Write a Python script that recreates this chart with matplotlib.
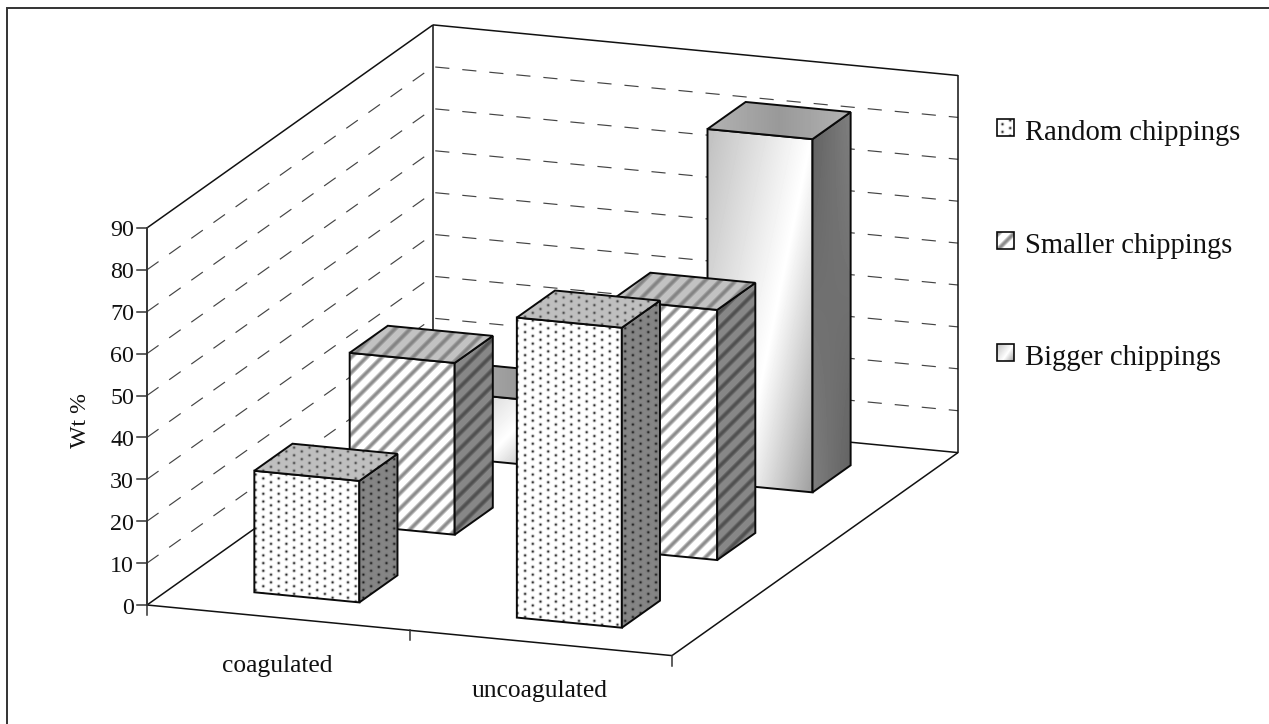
import numpy as np
import matplotlib
matplotlib.use("Agg")
import matplotlib.pyplot as plt
from matplotlib.patches import Polygon

# ---- data ----
categories = ["coagulated", "uncoagulated"]
series_names = ["Random chippings", "Smaller chippings", "Bigger chippings"]
random_chippings = [29, 71.6]
smaller_chippings = [41, 59.7]
bigger_chippings = [15.5, 84.3]
z_ticks = [0, 10, 20, 30, 40, 50, 60, 70, 80, 90]
z_label = "Wt %"

# ---- layout ----
W, H = 1269, 724
ORIGIN = np.array([147.0, 605.0])
U_VEC = np.array([262.5, 25.3])     # one category along the floor
V_VEC = np.array([95.33, -67.67])   # one series into the depth
Z_VEC = np.array([0.0, -4.19])      # one value unit upward
BAR_LO, BAR_HI = 0.3, 0.7
SERIF = "Liberation Serif"


def project(u, v, z):
    return ORIGIN + u * U_VEC + v * V_VEC + z * Z_VEC


fig = plt.figure(figsize=(W / 100, H / 100), dpi=100, facecolor="white")
ax = fig.add_axes([0, 0, 1, 1])
ax.set_axis_off()


def stripes(x, y):
    c = np.cos(2 * np.pi * (x + y) / 15.4)
    return np.clip(0.85 * c + 0.1, 0, 1)


def dots(x, y):
    p = 7.7
    col = np.floor((x - 1.5) / p + 0.5)
    dx = x - 1.5 - col * p
    yy = y - 1.0 + (col % 2) * p / 2
    dy = (yy + p / 2) % p - p / 2
    return np.exp(-(dx ** 2 + dy ** 2) / 1.7)


def shade(kind, face, x, y, s, r):
    if kind == 0:
        base = {"front": 1.0, "side": 0.52, "top": 0.75}[face]
        low = {"front": 0.15, "side": 0.12, "top": 0.28}[face]
        return base + (low - base) * dots(x, y)
    if kind == 1:
        base = {"front": 1.0, "side": 0.53, "top": 0.76}[face]
        low = {"front": 0.52, "side": 0.30, "top": 0.50}[face]
        return base + (low - base) * stripes(x, y)
    if face == "front":
        d = s - (1 - 0.7 * r)
        return np.where(d < 0, 1 + 0.25 * d, 1 - 0.55 * d)
    if face == "side":
        return 0.44 + 0.06 * (2 * s - 1) * (1 - 2 * r)
    return 0.60 + 0.10 * np.abs(2 * s - 1)


def paint(poly, kind, face, lw=1.4):
    poly = np.asarray(poly)
    x0, y0 = np.floor(poly.min(axis=0))
    x1, y1 = np.ceil(poly.max(axis=0))
    xs = np.arange(x0, x1) + 0.5
    ys = np.arange(y0, y1) + 0.5
    x, y = np.meshgrid(xs, ys)
    s = (x - x0) / max(x1 - x0, 1)
    r = (y - y0) / max(y1 - y0, 1)
    img = np.clip(shade(kind, face, x, y, s, r), 0, 1)
    im = ax.imshow(img, cmap="gray", vmin=0, vmax=1, extent=(x0, x1, y1, y0),
                   interpolation="bilinear", aspect="auto", zorder=order[0])
    patch = Polygon(poly, closed=True, fc="none", ec="#0a0a0a", lw=lw,
                    joinstyle="miter", zorder=order[0] + 0.5)
    ax.add_patch(patch)
    im.set_clip_path(patch)
    order[0] += 1


order = [5]

# ---- walls and floor ----
line_kw = dict(color="#111111", lw=1.1, solid_capstyle="butt", zorder=2)
dash_kw = dict(color="#444444", lw=0.85, linestyle=(0, (12, 11)), zorder=1)
zmax = z_ticks[-1]
for a, b, kw in [
    ((0, 0, 0), (2, 0, 0), line_kw),
    ((0, 0, 0), (0, 3, 0), line_kw),
    ((2, 0, 0), (2, 3, 0), line_kw),
    ((0, 3, 0), (2, 3, 0), line_kw),
    ((0, 0, zmax), (0, 3, zmax), line_kw),
    ((0, 3, zmax), (2, 3, zmax), line_kw),
    ((0, 3, 0), (0, 3, zmax), line_kw),
    ((2, 3, 0), (2, 3, zmax), line_kw),
]:
    pa, pb = project(*a), project(*b)
    ax.plot([pa[0], pb[0]], [pa[1], pb[1]], **kw)

for z in z_ticks[1:-1]:
    p0, p1, p2 = project(0, 0, z), project(0, 3, z), project(2, 3, z)
    ax.plot([p0[0], p1[0], p2[0]], [p0[1], p1[1], p2[1]], **dash_kw)

# value axis, ticks, labels
p0, p1 = project(0, 0, 0), project(0, 0, zmax)
ax.plot([p0[0], p1[0]], [p0[1], p1[1]], color="#333333", lw=1.4, zorder=3)
for z in z_ticks:
    p = project(0, 0, z)
    ax.plot([p[0] - 10, p[0]], [p[1], p[1]], color="#333333", lw=1.1, zorder=3)
    ax.text(p[0] - 13, p[1] + 0.5, str(z), ha="right", va="center_baseline",
            family=SERIF, fontsize=17.3, color="#111111")
ax.text(80, 421, z_label, rotation=90, ha="center", va="center",
        family=SERIF, fontsize=17.2, color="#111111")

# category ticks, labels
for i in range(len(categories) + 1):
    p = project(i, 0, 0)
    ax.plot([p[0], p[0]], [p[1], p[1] + 10], color="#333333", lw=1.1, zorder=3)
for i, name in enumerate(categories):
    p = project(i + 0.5, 0, 0)
    ax.text(p[0] - 1, p[1] + 48, name, ha="center", va="center",
            family=SERIF, fontsize=18.4, color="#111111")

# ---- bars, back to front ----
series_values = [random_chippings, smaller_chippings, bigger_chippings]
for j in reversed(range(len(series_values))):
    for i, val in enumerate(series_values[j]):
        u0, u1 = i + BAR_LO, i + BAR_HI
        v0, v1 = j + BAR_LO, j + BAR_HI
        paint([project(u0, v0, 0), project(u1, v0, 0),
               project(u1, v0, val), project(u0, v0, val)], j, "front")
        paint([project(u1, v0, 0), project(u1, v1, 0),
               project(u1, v1, val), project(u1, v0, val)], j, "side")
        paint([project(u0, v0, val), project(u1, v0, val),
               project(u1, v1, val), project(u0, v1, val)], j, "top")

# ---- legend ----
key_x, key_size = 997, 17
key_tops = [119, 232, 344]
for j, name in enumerate(series_names):
    top = key_tops[j]
    paint([(key_x, top), (key_x + key_size, top),
           (key_x + key_size, top + key_size), (key_x, top + key_size)],
          j, "front", lw=1.2)
    ax.text(1025, top + 21, name, ha="left", va="baseline", family=SERIF,
            fontsize=20.6, color="#111111")

# ---- chart area border (left and top only) ----
ax.plot([6.5, 6.5, W], [H, 7.5, 7.5], color="#333333", lw=1.4, zorder=50,
        solid_joinstyle="miter")

ax.set_xlim(0, W)
ax.set_ylim(H, 0)
fig.savefig("out.png", dpi=100, facecolor="white")
